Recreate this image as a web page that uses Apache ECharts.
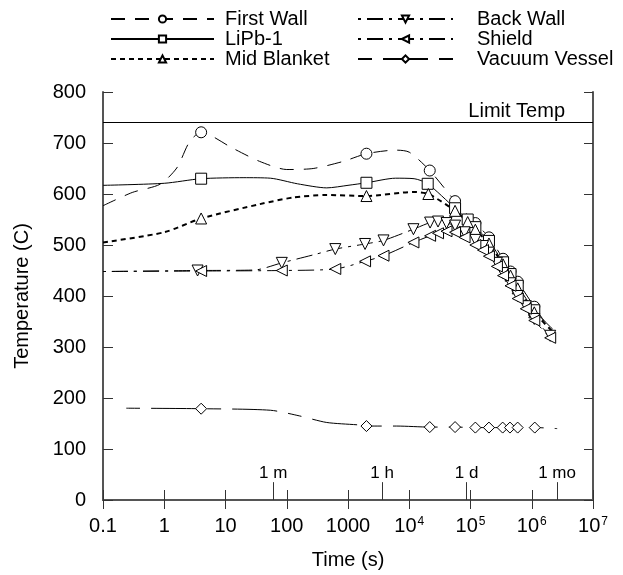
<!DOCTYPE html>
<html>
<head>
<meta charset="utf-8">
<script src="https://cdn.jsdelivr.net/npm/echarts@6/dist/echarts.min.js"></script>
<style>
html, body { margin: 0; padding: 0; background: #fff; }
#chart { width: 623px; height: 575px; }
</style>
</head>
<body>
<div id="chart"></div>
<script>
// 数据 (time in s, temperature in C)
const fwTime = [0.1, 0.3, 0.85, 1.6, 2.6, 4, 13, 36, 100, 270, 840, 2000, 6000, 10000, 21600, 56000, 120000, 200000, 340000, 450000, 590000, 1.1e6, 2.1e6]
const fwTemp = [577, 603, 619, 651, 703, 721, 690, 664, 648, 650, 664, 679, 686, 682, 646, 586, 543, 515, 473, 448, 428, 379, 330]
const fwMarks = [5, 11, 14, 15, 16, 17, 18, 19, 20, 21]

const lpTime = [0.1, 1, 4, 20, 54, 150, 450, 1000, 2000, 6000, 12000, 20000, 56000, 90000, 120000, 200000, 340000, 450000, 590000, 1.1e6, 2.2e6]
const lpTemp = [617, 621, 630, 632, 631, 620, 612, 617, 622, 631, 630, 620, 572, 550, 535, 508, 466, 443, 420, 372, 335]
const lpMarks = [2, 8, 11, 12, 13, 14, 15, 16, 17, 18, 19]

const mbTime = [0.1, 1, 4, 36, 126, 450, 2000, 11700, 20500, 56000, 90000, 120000, 200000, 340000, 450000, 590000, 1.1e6, 2.2e6]
const mbTemp = [505, 525, 552, 580, 593, 598, 596, 604, 600, 567, 545, 530, 503, 462, 440, 415, 368, 330]
const mbMarks = [2, 6, 8, 9, 10, 11, 12, 13, 14, 15, 16]

const bwTime = [0.1, 3.5, 30, 83, 300, 620, 1900, 3800, 11700, 21900, 29500, 40600, 56000, 80000, 120000, 160000, 200000, 270000, 340000, 450000, 590000, 800000, 1.1e6, 2e6]
const bwTemp = [448, 450, 451, 465, 482, 492, 502, 509, 531, 544, 546, 543, 538, 525, 510, 498, 485, 465, 445, 425, 400, 380, 355, 322]
const bwMarks = [1, 3, 5, 6, 7, 8, 9, 10, 11, 12, 13, 14, 15, 16, 17, 18, 19, 20, 21, 22, 23]

const shTime = [0.1, 4, 83, 620, 1900, 3800, 11700, 21900, 29500, 40600, 56000, 80000, 120000, 160000, 200000, 270000, 340000, 450000, 590000, 800000, 1.1e6, 2e6]
const shTemp = [448, 449, 450, 453, 468, 479, 505, 518, 523, 527, 525, 515, 500, 490, 478, 458, 440, 420, 395, 375, 352, 318]
const shMarks = [1, 2, 3, 4, 5, 6, 7, 8, 9, 10, 11, 12, 13, 14, 15, 16, 17, 18, 19, 20, 21]

const vvTime = [0.24, 4, 54, 160, 450, 1580, 2000, 6240, 21600, 56000, 120000, 200000, 335000, 441000, 589000, 1.12e6, 2.6e6]
const vvTemp = [180, 179, 176, 165, 152, 147, 145, 145, 143, 143, 142, 142, 142, 142, 142, 142, 140]
const vvMarks = [1, 6, 8, 9, 10, 11, 12, 13, 14, 15]

const limitTemp = 740
const timeMarkNames = ['1 m', '1 h', '1 d', '1 mo']
const timeMarkValues = [60, 3600, 86400, 2592000]

const FONT = 'Liberation Sans, Arial, sans-serif'

function buildData (times, temps, marks) {
  return times.map((t, i) => {
    const item = { value: [t, temps[i]] }
    if (marks.indexOf(i) < 0) item.symbol = 'none'
    return item
  })
}

function makeSeries (name, times, temps, marks, symbol, rotate, dash, width) {
  return {
    name: name,
    type: 'line',
    smooth: 0.25,
    symbol: symbol,
    symbolSize: 11,
    symbolRotate: rotate,
    showAllSymbol: true,
    lineStyle: { color: '#000', width: width, type: dash },
    itemStyle: { color: '#fff', borderColor: '#000', borderWidth: 1 },
    emphasis: { disabled: true },
    data: buildData(times, temps, marks),
    z: 3
  }
}

const myChart = echarts.init(document.getElementById('chart'))

const legendText = { fontSize: 20, color: '#000', fontFamily: FONT, lineHeight: 20 }

const option = {
  animation: false,
  backgroundColor: '#fff',
  textStyle: { fontFamily: FONT },
  grid: { left: 103, right: 30, top: 92, bottom: 72 },
  legend: [{
    data: ['First Wall', 'LiPb-1', 'Mid Blanket'],
    orient: 'vertical',
    left: 105,
    top: 4,
    itemWidth: 103,
    itemHeight: 9,
    itemGap: 0,
    textStyle: Object.assign({ padding: [0, 0, 0, 6] }, legendText)
  }, {
    data: ['Back Wall', 'Shield', 'Vacuum Vessel'],
    orient: 'vertical',
    left: 352,
    top: 4,
    itemWidth: 95,
    itemHeight: 9,
    itemGap: 0,
    textStyle: Object.assign({ padding: [0, 0, 0, 19] }, legendText)
  }],
  xAxis: [{
    type: 'log',
    logBase: 10,
    min: 0.1,
    max: 1e7,
    splitNumber: 8,
    name: 'Time (s)',
    nameLocation: 'middle',
    nameGap: 50,
    nameTextStyle: { fontSize: 20, color: '#000', fontFamily: FONT },
    axisLine: { lineStyle: { color: '#555', width: 2 } },
    axisTick: { inside: true, length: 10, lineStyle: { color: '#333', width: 1 } },
    axisLabel: {
      fontSize: 20,
      color: '#000',
      margin: 16,
      fontFamily: FONT,
      formatter: function (v) {
        const e = Math.round(Math.log10(v))
        if (e < 4) return e < 0 ? '0.1' : String(Math.pow(10, e))
        return '10{sup|' + e + '}'
      },
      rich: { sup: { fontSize: 12, verticalAlign: 'top', padding: [0, 0, 9, 1], color: '#000', fontFamily: FONT } }
    },
    splitLine: { show: false }
  }, {
    type: 'log',
    logBase: 10,
    min: 0.1,
    max: 1e7,
    splitNumber: 8,
    position: 'top',
    axisLine: { lineStyle: { color: '#555', width: 2 } },
    axisTick: { inside: true, length: 9, lineStyle: { color: '#333', width: 1 } },
    axisLabel: { show: false },
    splitLine: { show: false }
  }],
  yAxis: [{
    type: 'value',
    min: 0,
    max: 800,
    interval: 100,
    name: 'Temperature (C)',
    nameLocation: 'middle',
    nameGap: 71,
    nameTextStyle: { fontSize: 20, color: '#000', fontFamily: FONT },
    axisLine: { show: true, lineStyle: { color: '#555', width: 2 } },
    axisTick: { show: true, inside: true, length: 10, lineStyle: { color: '#333', width: 1 } },
    axisLabel: { fontSize: 20, color: '#000', margin: 17, fontFamily: FONT },
    splitLine: { show: false }
  }, {
    type: 'value',
    min: 0,
    max: 800,
    interval: 100,
    position: 'right',
    axisLine: { show: true, lineStyle: { color: '#555', width: 2 } },
    axisTick: { show: true, inside: true, length: 9, lineStyle: { color: '#333', width: 1 } },
    axisLabel: { show: false },
    splitLine: { show: false }
  }],
  series: [
    makeSeries('First Wall', fwTime, fwTemp, fwMarks, 'circle', 0, [14, 10], 1),
    makeSeries('LiPb-1', lpTime, lpTemp, lpMarks, 'rect', 0, 'solid', 1),
    makeSeries('Mid Blanket', mbTime, mbTemp, mbMarks, 'triangle', 0, [5, 4], 2),
    makeSeries('Back Wall', bwTime, bwTemp, bwMarks, 'triangle', 180, [3, 6, 16, 6], 1),
    makeSeries('Shield', shTime, shTemp, shMarks, 'triangle', 90, [3, 6, 16, 6], 1),
    makeSeries('Vacuum Vessel', vvTime, vvTemp, vvMarks, 'diamond', 0, [14, 11, 45, 11], 1),
    {
      name: 'refs',
      type: 'line',
      data: [],
      silent: true,
      markLine: {
        silent: true,
        symbol: 'none',
        animation: false,
        lineStyle: { color: '#000', width: 1, type: 'solid' },
        data: [
          [{ coord: [0.1, limitTemp], name: 'Limit Temp' }, {
            coord: [1e7, limitTemp],
            label: { show: true, position: 'insideEndTop', distance: 1, formatter: 'Limit Temp', fontSize: 20, color: '#000', fontFamily: FONT, padding: [0, 27, 0, 0] }
          }]
        ].concat(timeMarkValues.map((t, i) => [
          { coord: [t, 0], lineStyle: { color: '#333' } },
          {
            coord: [t, 35],
            label: { show: true, position: 'end', distance: 0, formatter: timeMarkNames[i], fontSize: 17, color: '#000', fontFamily: FONT }
          }
        ]))
      }
    }
  ]
}

myChart.setOption(option)
window.addEventListener('resize', () => {
  myChart.resize()
})
</script>
</body>
</html>
